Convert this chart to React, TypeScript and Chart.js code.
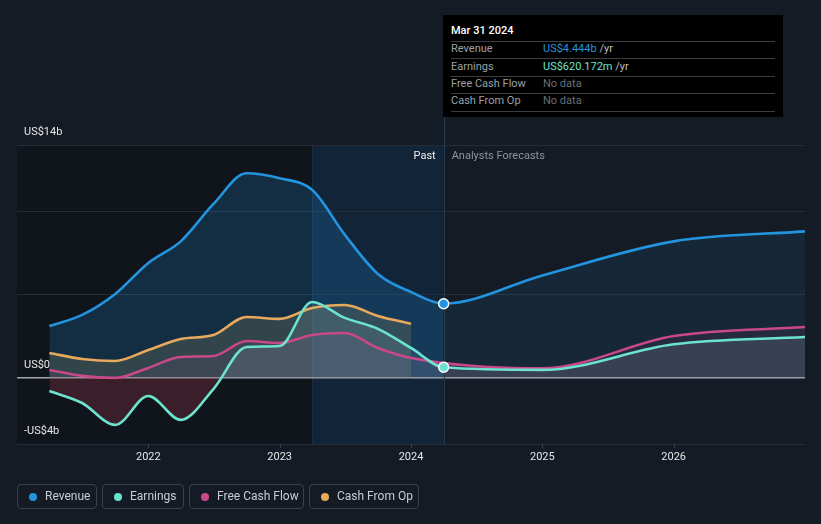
import React, { useEffect, useRef } from "react";
import { Chart, registerables } from "chart.js";

Chart.register(...registerables);

// ---------- data ----------
const pastDates = [
  "2021-03-31", "2021-06-30", "2021-09-30", "2021-12-31",
  "2022-03-31", "2022-06-30", "2022-09-30", "2022-12-31",
  "2023-03-31", "2023-06-30", "2023-09-30", "2023-12-31",
];
const currentDate = "2024-03-31";
const forecastDates = ["2024-12-31", "2025-12-31", "2026-12-31"];

const revenuePast = [3.1, 3.77, 5.03, 6.9, 8.2, 10.45, 12.3, 12.0, 11.3, 8.6, 6.24, 5.15];
const revenueCurrent = 4.444;
const revenueForecast = [6.15, 8.2, 8.8];

const earningsPast = [-0.81, -1.53, -2.85, -1.11, -2.55, -0.69, 1.84, 1.9, 4.55, 3.59, 2.93, 1.78];
const earningsCurrent = 0.62;
const earningsForecast = [0.46, 2.0, 2.44];

const fcfPast = [0.46, 0.1, -0.02, 0.58, 1.24, 1.3, 2.2, 2.08, 2.56, 2.68, 1.78, 1.18];
const fcfForecast = [0.55, 2.5, 3.04];

const cfoPast = [1.48, 1.12, 1.0, 1.66, 2.32, 2.56, 3.65, 3.53, 4.19, 4.37, 3.71, 3.23];

const yTicks = [-4, 0, 5, 10, 14];
const yTickLabels: Record<number, string> = { 14: "US$14b", 0: "US$0", [-4]: "-US$4b" };
const xTickYears = [2022, 2023, 2024, 2025, 2026];
const xMin = 2021;
const xMax = 2027;
const pastRegionStart = "2021-01-01";
const highlightStart = "2023-03-31";

const seriesNames = ["Revenue", "Earnings", "Free Cash Flow", "Cash From Op"];
const seriesColors = ["#2394df", "#6ce3cf", "#c8488a", "#e8a95d"];

// ---------- helpers ----------
function toYear(d: string): number {
  const [y, m, day] = d.split("-").map(Number);
  const start = Date.UTC(y, 0, 1);
  const end = Date.UTC(y + 1, 0, 1);
  const t = Date.UTC(y, m - 1, day) + 86400000;
  return y + (t - start) / (end - start);
}
const pts = (dates: string[], vals: number[]) =>
  dates.map((d, i) => ({ x: toYear(d), y: vals[i] }));

const FONT = "Roboto, 'Noto Sans', Arial, sans-serif";

export default function App() {
  const ref = useRef<HTMLCanvasElement | null>(null);

  useEffect(() => {
    document.body.style.margin = "0";
    document.body.style.background = "#151b25";
    const canvas = ref.current!;
    const curX = toYear(currentDate);
    const hlX = toYear(highlightStart);
    const pastX = Math.max(xMin, toYear(pastRegionStart) - 1 / 365);

    const revenueData = [
      ...pts(pastDates, revenuePast),
      { x: curX, y: revenueCurrent },
      ...pts(forecastDates, revenueForecast),
    ];
    const earningsData = [
      ...pts(pastDates, earningsPast),
      { x: curX, y: earningsCurrent },
      ...pts(forecastDates, earningsForecast),
    ];
    const fcfData = [...pts(pastDates, fcfPast), ...pts(forecastDates, fcfForecast)];
    const cfoData = pts(pastDates, cfoPast);

    const markerRadius = (data: { x: number }[]) =>
      data.map((p) => (Math.abs(p.x - curX) < 1e-6 ? 5 : 0));

    const bgPlugin = {
      id: "bgRegions",
      beforeDraw(chart: any) {
        const { ctx, chartArea, scales } = chart;
        const x = scales.x;
        const xa = x.getPixelForValue(pastX);
        const xb = x.getPixelForValue(hlX);
        const xc = x.getPixelForValue(curX);
        ctx.save();
        ctx.fillStyle = "#10141b";
        ctx.fillRect(xa, chartArea.top, xb - xa, chartArea.bottom - chartArea.top);
        ctx.fillStyle = "rgba(12,68,118,0.24)";
        ctx.fillRect(xb, chartArea.top, xc - xb, chartArea.bottom - chartArea.top);
        ctx.fillStyle = "rgba(60,110,150,0.18)";
        ctx.fillRect(Math.round(xb), chartArea.top, 1, chartArea.bottom - chartArea.top);
        ctx.restore();
      },
      beforeDatasetsDraw(chart: any) {
        const { ctx, chartArea, scales } = chart;
        const xc = Math.round(scales.x.getPixelForValue(curX)) + 0.5;
        ctx.save();
        ctx.strokeStyle = "#283a4c";
        ctx.lineWidth = 1;
        ctx.beginPath();
        ctx.moveTo(xc, 15);
        ctx.lineTo(xc, chartArea.bottom);
        ctx.stroke();
        ctx.restore();
      },
      afterDraw(chart: any) {
        const { ctx, chartArea, scales } = chart;
        ctx.save();
        // y labels
        ctx.font = `11px ${FONT}`;
        ctx.fillStyle = "#e6e6e6";
        ctx.textAlign = "left";
        ctx.textBaseline = "middle";
        for (const v of yTicks) {
          const lab = yTickLabels[v];
          if (!lab) continue;
          const py = scales.y.getPixelForValue(v);
          ctx.fillText(lab, 24, py - 12.5);
        }
        // x labels & tick marks
        ctx.textAlign = "center";
        for (const yr of xTickYears) {
          const px = scales.x.getPixelForValue(yr);
          ctx.strokeStyle = "#3a414b";
          ctx.lineWidth = 1;
          ctx.beginPath();
          ctx.moveTo(Math.round(px) + 0.5, chartArea.bottom);
          ctx.lineTo(Math.round(px) + 0.5, chartArea.bottom + 4);
          ctx.stroke();
          ctx.fillStyle = "#e6e6e6";
          ctx.fillText(String(yr), px, chartArea.bottom + 13.5);
        }
        // Past / Forecast
        const xc = scales.x.getPixelForValue(curX);
        ctx.textAlign = "right";
        ctx.fillStyle = "#f0f0f0";
        ctx.fillText("Past", xc - 8, chartArea.top + 11.5);
        ctx.textAlign = "left";
        ctx.fillStyle = "#8e949b";
        ctx.fillText("Analysts Forecasts", xc + 8, chartArea.top + 11.5);
        ctx.restore();
      },
    };

    const chart = new Chart(canvas, {
      type: "line",
      data: {
        datasets: [
          {
            label: seriesNames[0],
            data: revenueData,
            borderColor: seriesColors[0],
            borderWidth: 2.6,
            fill: "origin",
            backgroundColor: "rgba(35,148,223,0.2)",
            segment: {
              backgroundColor: (c: any) =>
                c.p0.parsed.x >= curX - 1e-6 ? "rgba(35,148,223,0.1)" : "rgba(35,148,223,0.2)",
            },
            pointRadius: markerRadius(revenueData),
            pointBackgroundColor: seriesColors[0],
            pointBorderColor: "#ffffff",
            pointBorderWidth: 1.5,
            cubicInterpolationMode: "monotone",
          },
          {
            label: seriesNames[1],
            data: earningsData,
            borderColor: seriesColors[1],
            borderWidth: 2.6,
            fill: { target: "origin", above: "rgba(190,215,215,0.13)", below: "rgba(150,55,75,0.32)" },
            pointRadius: markerRadius(earningsData),
            pointBackgroundColor: seriesColors[1],
            pointBorderColor: "#ffffff",
            pointBorderWidth: 1.5,
            cubicInterpolationMode: "monotone",
          },
          {
            label: seriesNames[2],
            data: fcfData,
            borderColor: seriesColors[2],
            borderWidth: 2.6,
            fill: { target: "origin", above: "rgba(201,71,138,0.1)", below: "rgba(201,71,138,0.1)" },
            pointRadius: 0,
            cubicInterpolationMode: "monotone",
          },
          {
            label: seriesNames[3],
            data: cfoData,
            borderColor: seriesColors[3],
            borderWidth: 2.6,
            fill: { target: "origin", above: "rgba(130,110,60,0.33)", below: "rgba(130,110,60,0.33)" },
            pointRadius: 0,
            cubicInterpolationMode: "monotone",
          },
        ],
      },
      options: {
        animation: false,
        responsive: false,
        maintainAspectRatio: false,
        events: [],
        layout: { padding: { left: 17, right: 16, top: 145, bottom: 80 } },
        plugins: {
          legend: { display: false },
          tooltip: { enabled: false },
          filler: { drawTime: "beforeDatasetsDraw" },
        } as any,
        scales: {
          x: { type: "linear", min: xMin, max: xMax, display: false },
          y: {
            type: "linear",
            min: yTicks[0],
            max: yTicks[yTicks.length - 1],
            afterBuildTicks: (s: any) => {
              s.ticks = yTicks.map((v) => ({ value: v }));
            },
            ticks: { display: false },
            border: { display: false },
            grid: {
              drawTicks: false,
              color: (c: any) => (c.tick && c.tick.value === 0 ? "#a3a7ad" : "#262d37"),
              lineWidth: (c: any) => (c.tick && c.tick.value === 0 ? 1.5 : 1),
            },
          },
        },
      },
      plugins: [bgPlugin],
    } as any);
    return () => chart.destroy();
  }, []);

  const legendBoxes = [
    { left: 17, width: 80 },
    { left: 102, width: 82 },
    { left: 189, width: 115 },
    { left: 309, width: 110 },
  ];

  const rowLabel: React.CSSProperties = {
    position: "absolute",
    left: 8,
    color: "#9aa0a6",
    fontSize: 11,
    lineHeight: "14px",
  };
  const rowVal: React.CSSProperties = {
    position: "absolute",
    left: 100,
    fontSize: 11,
    lineHeight: "14px",
  };
  const sep = (top: number): React.CSSProperties => ({
    position: "absolute",
    left: 8,
    width: 324,
    top,
    height: 1,
    background: "#3a3d42",
  });

  return (
    <div
      style={{
        position: "relative",
        width: 821,
        height: 524,
        background: "#151b25",
        fontFamily: FONT,
        overflow: "hidden",
      }}
    >
      <canvas ref={ref} width={821} height={524} style={{ position: "absolute", left: 0, top: 0 }} />
      {/* tooltip */}
      <div
        style={{
          position: "absolute",
          left: 443,
          top: 15,
          width: 340,
          height: 102,
          background: "#000000",
        }}
      >
        <div style={{ position: "absolute", left: 8, top: 9, color: "#ffffff", fontSize: 11, lineHeight: "14px", fontWeight: 500 }}>
          Mar 31 2024
        </div>
        <div style={sep(26)} />
        <div style={{ ...rowLabel, top: 27 }}>Revenue</div>
        <div style={{ ...rowVal, top: 27 }}>
          <span style={{ color: seriesColors[0] }}>US$4.444b</span>
          <span style={{ color: "#b8bcc2" }}> /yr</span>
        </div>
        <div style={sep(43)} />
        <div style={{ ...rowLabel, top: 45 }}>Earnings</div>
        <div style={{ ...rowVal, top: 45 }}>
          <span style={{ color: seriesColors[1] }}>US$620.172m</span>
          <span style={{ color: "#b8bcc2" }}> /yr</span>
        </div>
        <div style={sep(61)} />
        <div style={{ ...rowLabel, top: 62 }}>Free Cash Flow</div>
        <div style={{ ...rowVal, top: 62, color: "#6b7077" }}>No data</div>
        <div style={sep(78)} />
        <div style={{ ...rowLabel, top: 79 }}>Cash From Op</div>
        <div style={{ ...rowVal, top: 79, color: "#6b7077" }}>No data</div>
        <div style={sep(96)} />
      </div>
      {/* legend */}
      {seriesNames.map((name, i) => (
        <div
          key={name}
          style={{
            position: "absolute",
            left: legendBoxes[i].left,
            top: 484,
            width: legendBoxes[i].width,
            height: 25,
            boxSizing: "border-box",
            border: "1px solid #3a414b",
            borderRadius: 4,
          }}
        >
          <div
            style={{
              position: "absolute",
              left: 11,
              top: 8,
              width: 8,
              height: 8,
              borderRadius: 4,
              background: seriesColors[i],
            }}
          />
          <div
            style={{
              position: "absolute",
              left: 27,
              top: 4,
              fontSize: 12,
              lineHeight: "15px",
              color: "#c9ccd0",
              whiteSpace: "nowrap",
            }}
          >
            {name}
          </div>
        </div>
      ))}
    </div>
  );
}
